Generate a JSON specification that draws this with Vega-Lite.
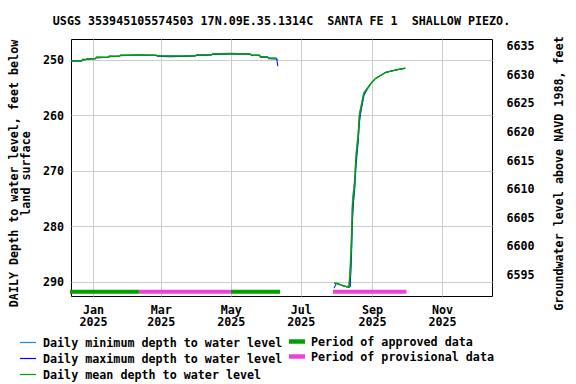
{
  "$schema": "https://vega.github.io/schema/vega-lite/v6.json",
  "width": 421,
  "height": 257,
  "autosize": {"type": "none"},
  "padding": {"left": 71, "top": 39, "right": 84, "bottom": 88},
  "background": "white",
  "title": {
    "text": "USGS 353945105574503 17N.09E.35.1314C\u00a0\u00a0SANTA FE 1\u00a0\u00a0SHALLOW PIEZO.",
    "font": "DejaVu Sans Mono", "fontSize": 11.7, "fontWeight": "bold", "color": "black",
    "anchor": "middle", "frame": "group", "baseline": "alphabetic", "offset": -0.8
  },
  "config": {
    "view": {"stroke": "black", "strokeWidth": 1},
    "axis": {
      "labelFont": "DejaVu Sans Mono", "labelFontWeight": "bold", "labelFontSize": 11.7, "labelColor": "black",
      "titleFont": "DejaVu Sans Mono", "titleFontWeight": "bold", "titleColor": "black",
      "gridColor": "#cccccc", "gridWidth": 1, "domain": false, "ticks": false, "labelOverlap": false
    },
    "legend": {
      "labelFont": "DejaVu Sans Mono", "labelFontWeight": "bold", "labelFontSize": 11.7, "labelColor": "black",
      "labelLimit": 400, "padding": 0, "rowPadding": 0, "labelOffset": 6, "symbolOpacity": 1
    }
  },
  "datasets": {
    "levels": [
      {"d": "2024-12-13", "g": 1, "mn": 250.25, "mx": 250.25, "me": 250.25},
      {"d": "2024-12-22", "g": 1, "mn": 250.25, "mx": 250.25, "me": 250.25},
      {"d": "2024-12-23", "g": 1, "mn": 249.95, "mx": 250.1, "me": 250.0},
      {"d": "2024-12-26", "g": 1, "mn": 250.0, "mx": 250.0, "me": 250.0},
      {"d": "2024-12-27", "g": 1, "mn": 249.8, "mx": 249.95, "me": 249.84},
      {"d": "2025-01-03", "g": 1, "mn": 249.84, "mx": 249.84, "me": 249.84},
      {"d": "2025-01-04", "g": 1, "mn": 249.55, "mx": 249.7, "me": 249.6},
      {"d": "2025-01-14", "g": 1, "mn": 249.6, "mx": 249.6, "me": 249.6},
      {"d": "2025-01-15", "g": 1, "mn": 249.35, "mx": 249.5, "me": 249.4},
      {"d": "2025-01-24", "g": 1, "mn": 249.4, "mx": 249.4, "me": 249.4},
      {"d": "2025-01-25", "g": 1, "mn": 249.2, "mx": 249.3, "me": 249.23},
      {"d": "2025-02-09", "g": 1, "mn": 249.1, "mx": 249.23, "me": 249.23},
      {"d": "2025-02-25", "g": 1, "mn": 249.23, "mx": 249.23, "me": 249.23},
      {"d": "2025-02-26", "g": 1, "mn": 249.3, "mx": 249.4, "me": 249.35},
      {"d": "2025-03-09", "g": 1, "mn": 249.35, "mx": 249.5, "me": 249.35},
      {"d": "2025-03-31", "g": 1, "mn": 249.35, "mx": 249.35, "me": 249.35},
      {"d": "2025-04-01", "g": 1, "mn": 249.12, "mx": 249.25, "me": 249.17},
      {"d": "2025-04-14", "g": 1, "mn": 249.17, "mx": 249.17, "me": 249.17},
      {"d": "2025-04-15", "g": 1, "mn": 248.95, "mx": 249.1, "me": 249.0},
      {"d": "2025-04-30", "g": 1, "mn": 248.85, "mx": 249.0, "me": 249.0},
      {"d": "2025-05-18", "g": 1, "mn": 249.0, "mx": 249.0, "me": 249.0},
      {"d": "2025-05-19", "g": 1, "mn": 249.15, "mx": 249.3, "me": 249.23},
      {"d": "2025-05-26", "g": 1, "mn": 249.23, "mx": 249.23, "me": 249.23},
      {"d": "2025-05-27", "g": 1, "mn": 249.45, "mx": 249.6, "me": 249.53},
      {"d": "2025-06-02", "g": 1, "mn": 249.53, "mx": 249.53, "me": 249.53},
      {"d": "2025-06-03", "g": 1, "mn": 249.7, "mx": 249.85, "me": 249.77},
      {"d": "2025-06-10", "g": 1, "mn": 249.77, "mx": 249.9, "me": 249.77},
      {"d": "2025-06-11", "g": 1, "mn": 250.1, "mx": 251.2, "me": null},
      {"d": "2025-07-30", "g": 2, "mn": 290.2, "mx": 291.1, "me": 290.23},
      {"d": "2025-08-01", "g": 2, "mn": 290.2, "mx": 290.25, "me": 290.22},
      {"d": "2025-08-04", "g": 2, "mn": 290.45, "mx": 290.45, "me": 290.45},
      {"d": "2025-08-07", "g": 2, "mn": 290.7, "mx": 290.7, "me": 290.7},
      {"d": "2025-08-10", "g": 2, "mn": 290.85, "mx": 290.85, "me": 290.85},
      {"d": "2025-08-12", "g": 2, "mn": 290.6, "mx": 290.95, "me": 290.9},
      {"d": "2025-08-13", "g": 2, "mn": 287.0, "mx": 290.9, "me": 288.6},
      {"d": "2025-08-14", "g": 2, "mn": 282.0, "mx": 286.5, "me": 284.2},
      {"d": "2025-08-15", "g": 2, "mn": 275.0, "mx": 279.0, "me": 276.5},
      {"d": "2025-08-16", "g": 2, "mn": 273.2, "mx": 275.5, "me": 274.3},
      {"d": "2025-08-17", "g": 2, "mn": 271.2, "mx": 273.2, "me": 272.2},
      {"d": "2025-08-18", "g": 2, "mn": 267.0, "mx": 269.5, "me": 268.0},
      {"d": "2025-08-19", "g": 2, "mn": 265.0, "mx": 267.0, "me": 266.0},
      {"d": "2025-08-20", "g": 2, "mn": 263.0, "mx": 264.8, "me": 263.9},
      {"d": "2025-08-21", "g": 2, "mn": 259.6, "mx": 261.5, "me": 260.3},
      {"d": "2025-08-22", "g": 2, "mn": 258.7, "mx": 259.8, "me": 259.2},
      {"d": "2025-08-23", "g": 2, "mn": 257.7, "mx": 258.7, "me": 258.2},
      {"d": "2025-08-24", "g": 2, "mn": 256.7, "mx": 257.6, "me": 257.1},
      {"d": "2025-08-25", "g": 2, "mn": 255.8, "mx": 256.5, "me": 256.1},
      {"d": "2025-08-28", "g": 2, "mn": 255.1, "mx": 255.3, "me": 255.2},
      {"d": "2025-08-31", "g": 2, "mn": 254.25, "mx": 254.35, "me": 254.3},
      {"d": "2025-09-04", "g": 2, "mn": 253.4, "mx": 253.4, "me": 253.4},
      {"d": "2025-09-09", "g": 2, "mn": 252.8, "mx": 252.8, "me": 252.8},
      {"d": "2025-09-13", "g": 2, "mn": 252.3, "mx": 252.3, "me": 252.3},
      {"d": "2025-09-19", "g": 2, "mn": 252.0, "mx": 252.0, "me": 252.0},
      {"d": "2025-09-25", "g": 2, "mn": 251.75, "mx": 251.75, "me": 251.75},
      {"d": "2025-09-30", "g": 2, "mn": 251.55, "mx": 251.55, "me": 251.55}
    ],
    "periods": [
      {"start": "2024-12-12", "end": "2025-02-10", "status": "Period of approved data"},
      {"start": "2025-02-10", "end": "2025-05-01", "status": "Period of provisional data"},
      {"start": "2025-05-01", "end": "2025-06-13", "status": "Period of approved data"},
      {"start": "2025-07-29", "end": "2025-10-01", "status": "Period of provisional data"}
    ]
  },
  "layer": [
    {
      "layer": [
        {
          "data": {"name": "periods"},
          "mark": {"type": "rect"},
          "encoding": {
            "x": {
              "field": "start", "type": "temporal",
              "scale": {"type": "utc", "domain": [{"year": 2024, "month": 12, "date": 12, "hours": 20, "utc": true}, {"year": 2025, "month": 12, "date": 14, "hours": 13, "utc": true}]},
              "axis": {
                "title": null, "grid": true, "labelFlush": false,
                "values": [
                  {"year": 2025, "month": 1, "date": 1, "utc": true},
                  {"year": 2025, "month": 3, "date": 1, "utc": true},
                  {"year": 2025, "month": 5, "date": 1, "utc": true},
                  {"year": 2025, "month": 7, "date": 1, "utc": true},
                  {"year": 2025, "month": 9, "date": 1, "utc": true},
                  {"year": 2025, "month": 11, "date": 1, "utc": true}
                ],
                "labelExpr": "[utcFormat(datum.value, '%b'), utcFormat(datum.value, '%Y')]",
                "labelLineHeight": 12.3, "labelPadding": 8
              }
            },
            "x2": {"field": "end"},
            "y": {
              "datum": 291.4, "type": "quantitative",
              "scale": {"domain": [246.3, 292.52], "reverse": true, "nice": false, "zero": false},
              "axis": {
                "values": [250, 255, 260, 265, 270, 275, 280, 285, 290],
                "grid": true, "labelPadding": 7.5,
                "title": ["DAILY Depth to water level, feet below", "land surface"],
                "titleFontSize": 11.7, "titleLineHeight": 12,
                "titleAngle": 270, "titleAlign": "center", "titleBaseline": "middle",
                "titleX": -58, "titleY": 134
              }
            },
            "y2": {"datum": 292.1},
            "fill": {
              "field": "status", "type": "nominal",
              "scale": {"domain": ["Period of approved data", "Period of provisional data"], "range": ["#00a000", "#f040dc"]},
              "legend": {
                "title": null, "orient": "none", "legendX": 218, "legendY": 294.5,
                "symbolType": "M-1,-0.28H1V0.28H-1Z", "symbolSize": 256, "symbolStrokeWidth": 0, "symbolOpacity": 1
              }
            }
          }
        },
        {
          "data": {"name": "levels"},
          "mark": {"type": "line", "strokeWidth": 1},
          "encoding": {
            "x": {"field": "d", "type": "temporal"},
            "y": {"field": "mn", "type": "quantitative"},
            "detail": {"field": "g", "type": "nominal"},
            "stroke": {
              "datum": "Daily minimum depth to water level", "type": "nominal",
              "scale": {"domain": ["Daily minimum depth to water level", "Daily maximum depth to water level", "Daily mean depth to water level"], "range": ["#2288dd", "#0000ff", "#00a000"]},
              "legend": {
                "title": null, "orient": "none", "legendX": -52, "legendY": 294.5,
                "symbolType": "stroke", "symbolSize": 256, "symbolStrokeWidth": 1.2, "symbolOpacity": 1
              }
            }
          }
        },
        {
          "data": {"name": "levels"},
          "mark": {"type": "line", "strokeWidth": 1},
          "encoding": {
            "x": {"field": "d", "type": "temporal"},
            "y": {"field": "mx", "type": "quantitative"},
            "detail": {"field": "g", "type": "nominal"},
            "stroke": {"datum": "Daily maximum depth to water level", "type": "nominal"}
          }
        },
        {
          "data": {"name": "levels"},
          "mark": {"type": "line", "strokeWidth": 1.5},
          "encoding": {
            "x": {"field": "d", "type": "temporal"},
            "y": {"field": "me", "type": "quantitative"},
            "detail": {"field": "g", "type": "nominal"},
            "stroke": {"datum": "Daily mean depth to water level", "type": "nominal"}
          }
        }
      ]
    },
    {
      "data": {"values": [{}]},
      "mark": {"type": "rule", "opacity": 0},
      "encoding": {
        "y": {
          "datum": 6600, "type": "quantitative",
          "scale": {"domain": [6591.26, 6636.17], "nice": false, "zero": false},
          "axis": {
            "orient": "right", "grid": false, "format": "d",
            "values": [6595, 6600, 6605, 6610, 6615, 6620, 6625, 6630, 6635],
            "labelPadding": 14,
            "title": "Groundwater level above NAVD 1988, feet",
            "titleFontSize": 11.7, "titleAngle": 270, "titleAlign": "center", "titleBaseline": "middle",
            "titleX": 66, "titleY": 134
          }
        }
      }
    }
  ],
  "resolve": {"scale": {"y": "independent"}}
}
